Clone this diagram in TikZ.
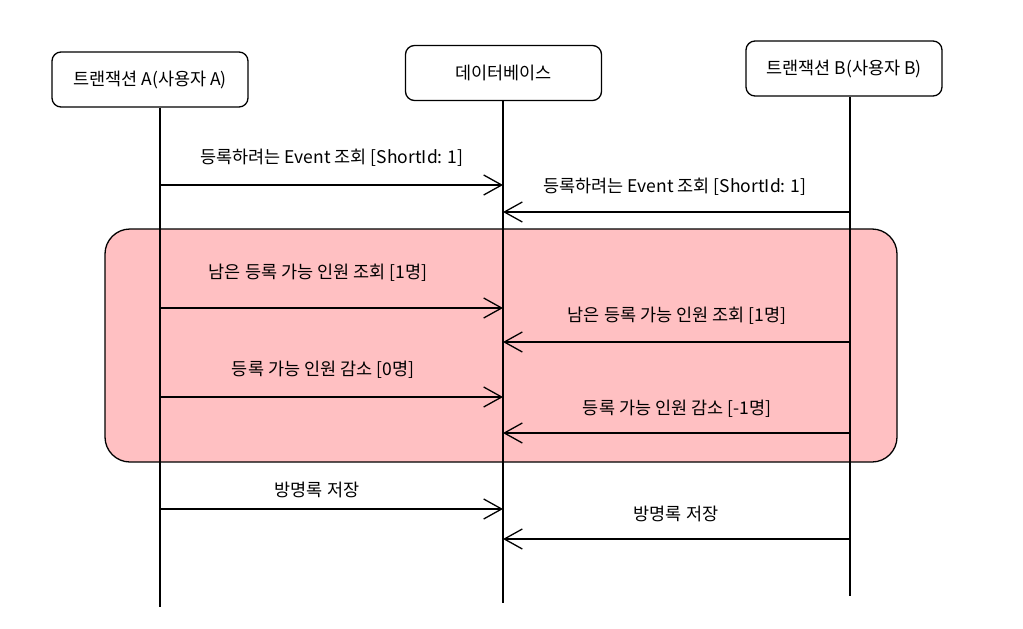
\documentclass[tikz,border=0pt]{standalone}
\usepackage{fontspec}
\setmainfont{Noto Sans CJK KR}
\usetikzlibrary{positioning,arrows.meta}
\definecolor{mypink}{RGB}{255,192,194}

\tikzset{
  actor/.style={draw,rounded corners=9pt,line width=1.3pt,minimum width=196pt,minimum height=55pt,font=\fontsize{17.5}{20}\selectfont},
  msg/.style={font=\fontsize{17.5}{20}\selectfont},
  life/.style={line width=1.3pt},
}

\begin{document}
\begin{tikzpicture}[x=1pt,y=-1pt,line width=1.3pt,>={Straight Barb[length=18pt,width=20pt,line width=1.3pt]}]
\useasboundingbox (0,0) rectangle (1023,629);

\filldraw[fill=mypink,rounded corners=25pt] (105,229) rectangle (897,462);

\node[actor] (ta) at (150,79.5) {트랜잭션 A(사용자 A)};
\node[actor] (db) at (503.5,73) {데이터베이스};
\node[actor] (tb) at (844,68.5) {트랜잭션 B(사용자 B)};

\coordinate (ta end) at (160,607);
\coordinate (db end) at (503,603);
\coordinate (tb end) at (850,596);

\draw[life] (ta.south -| ta end) -- (ta end);
\draw[life] (db.south -| db end) -- (db end);
\draw[life] (tb.south -| tb end) -- (tb end);

% 각 메시지 높이
\foreach \n/\y in {1/185,3/308,5/397,7/509}{
  \coordinate (a\n) at (160,\y);
  \coordinate (d\n) at (503,\y);
}
\foreach \n/\y in {2/212,4/342,6/433,8/539}{
  \coordinate (b\n) at (850,\y);
  \coordinate (d\n) at (503,\y);
}

\draw[->] (a1) -- (d1);
\draw[->] (b2) -- (d2);
\draw[->] (a3) -- (d3);
\draw[->] (b4) -- (d4);
\draw[->] (a5) -- (d5);
\draw[->] (b6) -- (d6);
\draw[->] (a7) -- (d7);
\draw[->] (b8) -- (d8);

\node[msg] (m1) at (332,158) {등록하려는 Event 조회 [ShortId: 1]};
\node[msg] (m2) at (675,187) {등록하려는 Event 조회 [ShortId: 1]};
\node[msg] (m3) at (318,273) {남은 등록 가능 인원 조회 [1명]};
\node[msg] (m4) at (677,316) {남은 등록 가능 인원 조회 [1명]};
\node[msg] (m5) at (323,370) {등록 가능 인원 감소 [0명]};
\node[msg] (m6) at (677,409) {등록 가능 인원 감소 [-1명]};
\node[msg] (m7) at (317,490) {방명록 저장};
\node[msg] (m8) at (676,514) {방명록 저장};
\end{tikzpicture}
\end{document}
